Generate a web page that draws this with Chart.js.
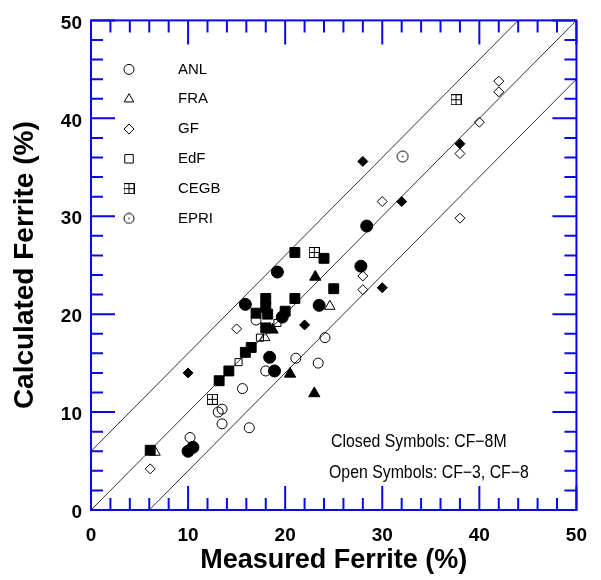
<!DOCTYPE html>
<html>
<head>
<meta charset="utf-8">
<script src="https://cdn.jsdelivr.net/npm/chart.js@4/dist/chart.umd.min.js"></script>
<style>
  html, body { margin: 0; padding: 0; background: #fff; }
</style>
</head>
<body>
<canvas id="ferriteChart" width="601" height="580"></canvas>
<script>
// Axis range and labelled ticks
const axisMin = 0, axisMax = 50;
const majorStep = 10, minorStep = 2;

// Legend entries (open symbols)
const labs = ['ANL', 'FRA', 'GF', 'EdF', 'CEGB', 'EPRI'];

// Open symbols: CF-3, CF-8   [measured, calculated]
const anlOpen = [[24.1, 17.6], [21.1, 15.5], [23.4, 15.0], [18.0, 14.2], [15.6, 12.4], [13.5, 10.3],
                 [13.1, 10.0], [13.5, 8.8], [16.3, 8.4], [10.2, 7.4], [17.0, 19.4]];
const fraOpen = [[24.6, 20.8], [17.9, 17.6], [6.6, 5.9]];
const gfOpen = [[42.0, 43.8], [42.0, 42.7], [40.0, 39.6], [38.0, 36.4], [30.0, 31.5], [38.0, 29.8],
                [28.0, 23.9], [28.0, 22.5], [15.0, 18.5], [6.1, 4.2]];
const edfOpen = [[17.4, 17.6], [15.2, 15.1], [19.2, 19.1]];
const cegbOpen = [[37.6, 41.9], [23.0, 26.3], [12.5, 11.3]];
const epriOpen = [[32.1, 36.1]];

// Closed symbols: CF-8M
const anlClosed = [[28.4, 29.0], [27.8, 24.9], [19.2, 24.3], [15.9, 21.0], [23.5, 20.9], [19.7, 19.7],
                   [18.4, 15.6], [18.9, 14.2], [10.5, 6.4], [10.0, 6.0]];
const fraClosed = [[23.1, 23.8], [20.5, 13.9], [23.0, 11.9], [18.7, 18.4]];
const gfClosed = [[38.0, 37.4], [28.0, 35.6], [32.0, 31.5], [30.0, 22.7], [22.0, 18.9], [10.0, 14.0]];
const edfClosed = [[21.0, 26.3], [24.0, 25.7], [25.0, 22.6], [21.0, 21.6], [18.0, 21.6], [18.0, 20.7],
                   [17.0, 20.1], [18.2, 20.0], [20.0, 20.3], [18.0, 18.6], [16.5, 16.6], [15.9, 16.1],
                   [14.2, 14.2], [13.2, 13.2], [6.1, 6.1]];

// Reference lines: calculated = measured + offset
const bandOffsets = [-6, 0, 6];

const frameBlue = '#0a0ae8';
const fontFamily = "'Liberation Sans', Arial, Helvetica, sans-serif";

// custom symbols: boxed cross (CEGB) and dotted circle (EPRI)
function makeCegbSymbol(size) {
    const c = document.createElement('canvas');
    c.width = size; c.height = size;
    const g = c.getContext('2d');
    const m = Math.floor(size / 2) + 0.5;
    g.strokeStyle = '#000';
    g.lineWidth = 1;
    g.strokeRect(0.5, 0.5, size - 1, size - 1);
    g.beginPath();
    g.moveTo(m, 0.5); g.lineTo(m, size - 0.5);
    g.moveTo(0.5, m); g.lineTo(size - 0.5, m);
    g.stroke();
    return c;
}
function makeEpriSymbol(size) {
    const c = document.createElement('canvas');
    c.width = size; c.height = size;
    const g = c.getContext('2d');
    const m = size / 2;
    g.strokeStyle = '#000';
    g.lineWidth = 1;
    g.beginPath();
    g.arc(m, m, m - 1, 0, Math.PI * 2);
    g.stroke();
    g.fillStyle = '#000';
    g.beginPath();
    g.arc(m, m, 0.8, 0, Math.PI * 2);
    g.fill();
    return c;
}
const cegbSymbol = makeCegbSymbol(11);
const epriSymbol = makeEpriSymbol(13);
const epriLegendSymbol = makeEpriSymbol(12);

function pts(list) {
    return list.map(p => ({ x: p[0], y: p[1] }));
}

function scatterSet(label, list, style, radius, filled) {
    return {
        type: 'scatter',
        label: label,
        data: pts(list),
        pointStyle: style,
        pointRadius: radius,
        pointHoverRadius: radius,
        pointBorderWidth: 1,
        pointBorderColor: '#000',
        pointBackgroundColor: filled ? '#000' : 'rgba(0,0,0,0)',
        order: 1
    };
}

const lineSets = bandOffsets.map(d => ({
    type: 'line',
    label: 'y = x ' + d,
    data: [
        { x: Math.max(axisMin, axisMin - d), y: Math.max(axisMin, axisMin - d) + d },
        { x: Math.min(axisMax, axisMax - d), y: Math.min(axisMax, axisMax - d) + d }
    ],
    borderColor: '#333',
    borderWidth: 1,
    pointRadius: 0,
    fill: false,
    order: 5
}));

const datasets = [
    ...lineSets,
    scatterSet('EdF closed', edfClosed, 'rect', 7, true),
    scatterSet('ANL closed', anlClosed, 'circle', 6, true),
    scatterSet('FRA closed', fraClosed, 'triangle', 6.5, true),
    scatterSet('GF closed', gfClosed, 'rectRot', 5, true),
    scatterSet('ANL', anlOpen, 'circle', 5, false),
    scatterSet('FRA', fraOpen, 'triangle', 6, false),
    scatterSet('GF', gfOpen, 'rectRot', 5, false),
    scatterSet('EdF', edfOpen, 'rect', 5, false),
    scatterSet('CEGB', cegbOpen, cegbSymbol, 5, false),
    scatterSet('EPRI', epriOpen, epriSymbol, 6, false)
];

// legend symbols, same order as labs
const legendStyles = [
    { pointStyle: 'circle', radius: 5 },
    { pointStyle: 'triangle', radius: 5.5 },
    { pointStyle: 'rectRot', radius: 5 },
    { pointStyle: 'rect', radius: 6 },
    { pointStyle: cegbSymbol, radius: 5 },
    { pointStyle: epriLegendSymbol, radius: 5 }
];

const framePlugin = {
    id: 'frameTicks',
    afterDraw(chart) {
        const { ctx, chartArea } = chart;
        const xs = chart.scales.x, ys = chart.scales.y;
        const { left, right, top, bottom } = chartArea;
        ctx.save();
        ctx.strokeStyle = frameBlue;
        ctx.lineWidth = 2;
        ctx.beginPath();
        for (let v = axisMin; v <= axisMax; v += minorStep) {
            const len = v % majorStep === 0 ? 24 : 12;
            const px = xs.getPixelForValue(v);
            const py = ys.getPixelForValue(v);
            ctx.moveTo(px, bottom); ctx.lineTo(px, bottom - len);
            ctx.moveTo(px, top); ctx.lineTo(px, top + len);
            ctx.moveTo(left, py); ctx.lineTo(left + len, py);
            ctx.moveTo(right, py); ctx.lineTo(right - len, py);
        }
        ctx.stroke();
        ctx.strokeRect(left, top, right - left, bottom - top);
        ctx.restore();
    }
};

// narrow text like Helvetica Narrow: squeeze the regular face
function narrowText(ctx, text, x, y, squeeze) {
    ctx.save();
    ctx.translate(x, y);
    ctx.scale(squeeze, 1);
    ctx.fillText(text, 0, 0);
    ctx.restore();
}

const legendPlugin = {
    id: 'labLegend',
    afterDraw(chart) {
        const { ctx, chartArea } = chart;
        const sx = chartArea.left + 38, tx = chartArea.left + 87;
        ctx.save();
        ctx.font = '15px ' + fontFamily;
        ctx.textBaseline = 'middle';
        ctx.textAlign = 'left';
        labs.forEach((lab, i) => {
            const y = chartArea.top + 49 + i * 29.8;
            ctx.strokeStyle = '#000';
            ctx.fillStyle = 'rgba(0,0,0,0)';
            ctx.lineWidth = 1;
            Chart.helpers.drawPoint(ctx, { pointStyle: legendStyles[i].pointStyle, rotation: 0,
                radius: legendStyles[i].radius, borderWidth: 1 }, sx, y);
            ctx.fillStyle = '#000';
            ctx.fillText(lab, tx, y);
        });
        // note on symbols
        ctx.font = '18px ' + fontFamily;
        narrowText(ctx, 'Closed Symbols: CF\u22128M', chartArea.left + 240, chartArea.top + 422, 0.88);
        narrowText(ctx, 'Open Symbols: CF\u22123, CF\u22128', chartArea.left + 238, chartArea.top + 453, 0.88);
        ctx.restore();
    }
};

const tickFont = { family: fontFamily, size: 19, weight: 'bold' };

new Chart(document.getElementById('ferriteChart'), {
    data: { datasets: datasets },
    options: {
        responsive: false,
        animation: false,
        layout: { padding: { top: 12, right: 9, left: 0, bottom: 0 } },
        plugins: {
            legend: { display: false },
            tooltip: { enabled: false }
        },
        scales: {
            x: {
                type: 'linear',
                min: axisMin,
                max: axisMax,
                ticks: { stepSize: majorStep, font: tickFont, color: '#000', padding: 14, maxRotation: 0, autoSkip: false },
                grid: { display: false, drawTicks: false },
                border: { display: false },
                title: { display: true, text: 'Measured Ferrite (%)', color: '#000',
                         font: { family: fontFamily, size: 27, weight: 'bold', lineHeight: 1 },
                         padding: { top: 0, bottom: 6 } },
                afterFit: s => { s.height = 70; }
            },
            y: {
                type: 'linear',
                min: axisMin,
                max: axisMax,
                ticks: { stepSize: majorStep, font: tickFont, color: '#000', padding: 9, labelOffset: 3 },
                grid: { display: false, drawTicks: false },
                border: { display: false },
                title: { display: true, text: 'Calculated Ferrite (%)', color: '#000',
                         font: { family: fontFamily, size: 28, weight: 'bold', lineHeight: 1 },
                         padding: { top: 11, bottom: 0 } },
                afterFit: s => { s.width = 91; }
            }
        }
    },
    plugins: [framePlugin, legendPlugin]
});
</script>
</body>
</html>
